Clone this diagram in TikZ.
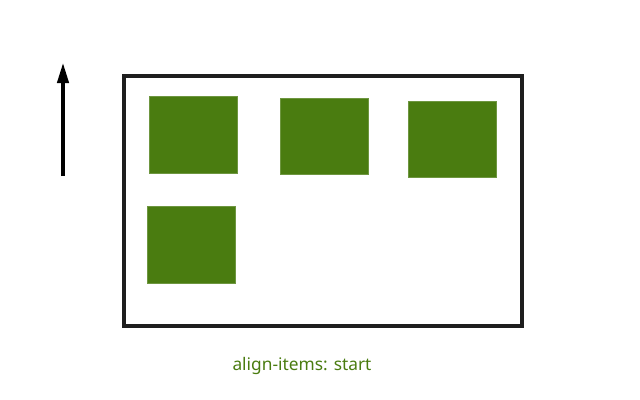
\documentclass[tikz,border=0pt]{standalone}
\usepackage{fontspec}
\setmainfont{Noto Sans}
\usetikzlibrary{arrows.meta}
\definecolor{itemgreen}{RGB}{74,124,16}
\definecolor{framegray}{RGB}{30,30,30}
\tikzset{
  px/.style={x=0.75pt,y=-0.75pt},
  item/.style={fill=itemgreen,draw=itemgreen!80!white,line width=0.5pt,inner sep=0pt,minimum width=66pt,minimum height=57.5pt,anchor=north west},
  container/.style={draw=framegray,line width=3.5pt},
  axisarrow/.style={draw=black,line width=2.4pt,-{Triangle[length=15pt,width=8.5pt]}},
  caption/.style={text=itemgreen,font=\fontsize{13pt}{15pt}\selectfont,inner sep=0pt}
}
\begin{document}
\begin{tikzpicture}[px]
\useasboundingbox (0,0) rectangle (640,400);
\draw[container] (124,76) rectangle (522,326);
\node[item] (i1) at (149.3,96) {};
\node[item] (i2) at (280.3,97.5) {};
\node[item] (i3) at (408.3,100.5) {};
\node[item] (i4) at (147.3,206) {};
\coordinate (abot) at (63,176);
\coordinate (atop) at (63,63);
\draw[axisarrow] (abot) -- (atop);
\node[caption] (cap) at (302,366) {align-items: start};
\end{tikzpicture}
\end{document}
